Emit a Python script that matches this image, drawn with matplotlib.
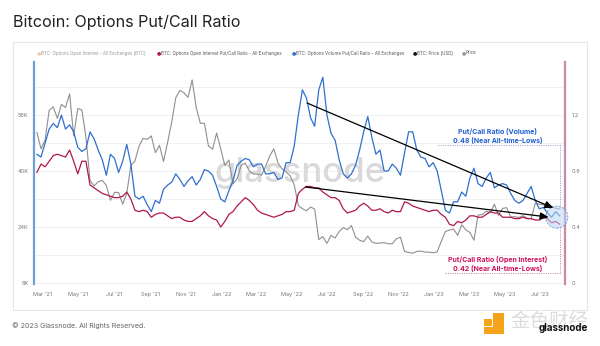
import matplotlib
matplotlib.use("Agg")
import matplotlib.pyplot as plt
import matplotlib.dates as mdates
from matplotlib.patches import Rectangle, Ellipse
import pandas as pd

plt.rcParams['font.family'] = ['Inter', 'DejaVu Sans']

# ---- data (weekly) ----
dates = pd.date_range("2021-02-19", periods=129, freq="7D")

price_k = [
    51.0, 46.3, 48.8, 57.3, 58.3, 55.0, 59.0, 58.1, 62.0, 50.0,
    57.8, 57.4, 49.7, 37.3, 35.7, 36.9, 37.3, 35.8, 31.6, 33.9,
    33.8, 30.5, 33.6, 41.6, 42.8, 47.1, 49.3, 49.0, 50.0, 45.2,
    47.3, 42.7, 48.2, 53.9, 60.9, 63.0, 62.3, 61.0, 66.0, 58.1,
    53.6, 53.6, 47.1, 46.2, 50.8, 46.3, 41.6, 43.1, 36.3, 37.7,
    41.6, 42.2, 40.0, 39.1, 39.1, 38.8, 41.3, 44.3, 46.3, 42.3,
    40.6, 39.7, 38.6, 36.0, 30.1, 29.2, 28.6, 29.7, 29.1, 20.4,
    21.2, 19.3, 21.6, 20.8, 22.7, 23.8, 23.2, 24.4, 21.1, 20.2,
    19.8, 21.4, 19.7, 19.3, 19.4, 19.5, 19.2, 19.2, 20.6, 21.1,
    17.0, 16.7, 16.5, 17.0, 17.1, 16.8, 16.8, 16.6, 16.9, 19.9,
    22.7, 23.1, 23.4, 21.6, 24.6, 23.2, 22.4, 20.2, 27.4, 27.5,
    28.5, 28.0, 30.5, 27.3, 29.3, 29.5, 26.8, 26.9, 26.7, 27.2,
    26.5, 26.3, 30.7, 30.5, 30.3, 30.3, 29.9, 29.3, 29.1,
]

volume_pcr = [
    0.92, 0.90, 1.00, 1.10, 1.14, 1.11, 1.20, 1.10, 1.13, 1.08,
    0.97, 0.94, 0.96, 1.08, 1.03, 0.95, 0.88, 0.77, 0.92, 0.89,
    0.79, 0.87, 0.99, 0.85, 0.62, 0.60, 0.62, 0.56, 0.51, 0.59,
    0.57, 0.67, 0.70, 0.72, 0.78, 0.74, 0.69, 0.73, 0.76, 0.70,
    0.74, 0.81, 0.80, 0.77, 0.69, 0.60, 0.58, 0.66, 0.73, 0.84,
    0.87, 0.89, 0.88, 0.83, 0.85, 0.85, 0.78, 0.78, 0.79, 0.74,
    0.75, 0.86, 0.86, 0.98, 1.20, 1.38, 1.32, 1.18, 1.12, 1.38,
    1.47, 1.20, 1.07, 1.02, 0.88, 0.78, 0.75, 0.78, 0.84, 0.95,
    1.08, 1.19, 1.04, 0.92, 0.95, 0.80, 0.80, 0.85, 0.82, 0.77,
    0.93, 1.08, 1.08, 0.95, 0.90, 0.89, 0.83, 0.86, 0.80, 0.66,
    0.52, 0.50, 0.58, 0.58, 0.65, 0.62, 0.75, 0.82, 0.71, 0.69,
    0.75, 0.79, 0.68, 0.70, 0.71, 0.70, 0.64, 0.59, 0.57, 0.59,
    0.64, 0.69, 0.59, 0.53, 0.54, 0.50, 0.47, 0.51, 0.48,
]

oi_pcr = [
    0.79, 0.85, 0.83, 0.87, 0.91, 0.92, 0.91, 0.90, 0.95, 0.87,
    0.78, 0.87, 0.87, 0.70, 0.68, 0.66, 0.64, 0.63, 0.62, 0.61,
    0.61, 0.62, 0.65, 0.60, 0.52, 0.51, 0.52, 0.51, 0.47, 0.49,
    0.50, 0.50, 0.48, 0.46, 0.47, 0.47, 0.45, 0.44, 0.44, 0.46,
    0.48, 0.51, 0.48, 0.46, 0.45, 0.40, 0.44, 0.49, 0.51, 0.55,
    0.58, 0.61, 0.59, 0.56, 0.52, 0.50, 0.49, 0.48, 0.47, 0.48,
    0.49, 0.51, 0.51, 0.52, 0.64, 0.67, 0.69, 0.69, 0.68, 0.68,
    0.65, 0.63, 0.61, 0.61, 0.59, 0.53, 0.50, 0.51, 0.52, 0.55,
    0.57, 0.55, 0.52, 0.52, 0.53, 0.51, 0.50, 0.52, 0.51, 0.51,
    0.58, 0.57, 0.55, 0.54, 0.53, 0.52, 0.51, 0.52, 0.52, 0.49,
    0.47, 0.42, 0.41, 0.44, 0.43, 0.45, 0.48, 0.48, 0.47, 0.47,
    0.49, 0.51, 0.50, 0.50, 0.47, 0.47, 0.47, 0.46, 0.46, 0.47,
    0.46, 0.46, 0.45, 0.45, 0.47, 0.46, 0.43, 0.44, 0.42,
]

price_ticks = [8, 24, 40, 56]
ratio_ticks = [0, 0.4, 0.8, 1.2]
month_ticks = pd.date_range("2021-03-01", "2023-07-01", freq="2MS")

legend_items = [
    ("BTC: Options Open Interest - All Exchanges (BTC)", "#f08a3c", 0.45),
    ("BTC: Options Open Interest Put/Call Ratio - All Exchanges", "#b0174f", 1.0),
    ("BTC: Options Volume Put/Call Ratio - All Exchanges", "#2f6fcf", 1.0),
    ("BTC: Price (USD)", "#111111", 1.0),
    ("Price", "#9a9a9a", 1.0),
]

BLUE = "#2f6fcf"
RED = "#b0174f"
GRAY = "#8f8f8f"

W, H = 600, 346
fig = plt.figure(figsize=(W / 100, H / 100), dpi=100)
fig.patch.set_facecolor("white")


def fx(px):
    return px / W


def fy(py):
    return 1 - py / H


# card frame
fig.add_artist(Rectangle((fx(13), fy(310)), fx(587) - fx(13), fy(42) - fy(310),
                         transform=fig.transFigure, fill=False,
                         edgecolor="#e6e6e6", lw=0.8))

fig.text(fx(13), fy(22), "Bitcoin: Options Put/Call Ratio", fontsize=11.6,
         color="#222222", ha="left", va="center")

# legend row
lx = [37, 157, 292, 413, 462]
for (label, col, a), x in zip(legend_items, lx):
    fig.text(fx(x), fy(53), "\u25cf", fontsize=3.6, color=col, alpha=a,
             ha="left", va="center", family=["DejaVu Sans"])
    fig.text(fx(x + 4), fy(53), label, fontsize=3.2, color="#555555",
             alpha=0.6 if a < 1 else 1.0, ha="left", va="center")

ax = fig.add_axes([fx(34), fy(284), fx(565) - fx(34), fy(62) - fy(284)])
ax2 = ax.twinx()

ax.set_zorder(1)
ax2.set_zorder(2)
ax.patch.set_visible(False)
ax2.patch.set_visible(False)

ax.plot(dates, [p * 1000 for p in price_k], color=GRAY, lw=0.8, zorder=3)
ax2.plot(dates, oi_pcr, color=RED, lw=0.9, zorder=4)
ax2.plot(dates, volume_pcr, color=BLUE, lw=0.9, zorder=5)

x0 = pd.Timestamp("2021-02-14")
x1 = pd.Timestamp("2023-08-13")
ax.set_xlim(x0, x1)
ax.set_ylim(7700, 71100)
ax2.set_ylim(-0.007, 1.579)

for g in range(8, 72, 8):
    ax.axhline(g * 1000, color="#efefef", lw=0.6, zorder=0)

ax.set_yticks([t * 1000 for t in price_ticks])
ax.set_yticklabels([f"{t}K" for t in price_ticks])
ax2.set_yticks(ratio_ticks)
ax2.set_yticklabels([f"{t:g}" for t in ratio_ticks])
ax.set_xticks(month_ticks)
ax.set_xticklabels([d.strftime("%b '%y") for d in month_ticks])

ax.tick_params(axis="y", length=0, labelsize=4, labelcolor="#777777", pad=4)
ax2.tick_params(axis="y", length=0, labelsize=4, labelcolor="#777777", pad=5)
ax.tick_params(axis="x", length=0, labelsize=4, labelcolor="#777777", pad=6)

for a in (ax, ax2):
    for s in ("top", "bottom"):
        a.spines[s].set_visible(False)
ax.spines["right"].set_visible(False)
ax2.spines["left"].set_visible(False)
ax.spines["left"].set_color("#6f9fd6")
ax.spines["left"].set_linewidth(1.6)
ax2.spines["right"].set_color("#c98aa6")
ax2.spines["right"].set_linewidth(1.6)

# watermark
ax.text(0.5, 0.5, "glassnode", transform=ax.transAxes, fontsize=25,
        color="#d9d9d9", ha="center", va="center", zorder=1, weight="medium")

# trend arrows
arrow_kw = dict(arrowstyle="-|>,head_length=0.5,head_width=0.22",
                color="black", lw=0.9, shrinkA=0, shrinkB=0)
ax2.annotate("", xy=(pd.Timestamp("2023-07-24"), 0.536),
             xytext=(pd.Timestamp("2022-05-28"), 1.286),
             arrowprops=arrow_kw, zorder=8)
ax2.annotate("", xy=(pd.Timestamp("2023-07-16"), 0.471),
             xytext=(pd.Timestamp("2022-05-25"), 0.686),
             arrowprops=arrow_kw, zorder=8)

# callout boxes
dot = (0, (1, 1.4))
bx_l1 = pd.Timestamp("2023-01-07")
bx_l2 = pd.Timestamp("2023-01-19")
bx_r = pd.Timestamp("2023-08-04")
ax2.plot([bx_l1, bx_r], [0.986, 0.986], ls=dot, color="#8a9ec8", lw=0.7, zorder=6)
ax2.plot([bx_r, bx_r], [0.986, 0.543], ls=dot, color="#8a9ec8", lw=0.7, zorder=6)
ax2.plot([bx_l2, bx_r], [0.071, 0.071], ls=dot, color="#c77b9b", lw=0.7, zorder=6)
ax2.plot([bx_r, bx_r], [0.071, 0.393], ls=dot, color="#c77b9b", lw=0.7, zorder=6)

ctr = mdates.date2num(pd.Timestamp("2023-07-30"))
ax2.add_patch(Ellipse((ctr, 0.471), 37.7, 0.157, facecolor="#bcd6f3",
                      alpha=0.55, edgecolor="none", zorder=6, clip_on=False))
ax2.add_patch(Ellipse((ctr, 0.471), 37.7, 0.157, facecolor="none",
                      edgecolor="#6c9ee0", ls=(0, (2, 1.5)), lw=0.7,
                      zorder=7, clip_on=False))

tx = pd.Timestamp("2023-04-20")
ax2.text(tx, 1.086, "Put/Call Ratio (Volume)", color="#1f5fd0", fontsize=5,
         weight="bold", ha="center", va="center", zorder=9)
ax2.text(tx, 1.021, "0.48 (Near All-time-Lows)", color="#1f5fd0", fontsize=5,
         weight="bold", ha="center", va="center", zorder=9)
ax2.text(tx, 0.171, "Put/Call Ratio (Open Interest)", color="#d0105a", fontsize=5,
         weight="bold", ha="center", va="center", zorder=9)
ax2.text(tx, 0.107, "0.42 (Near All-time-Lows)", color="#d0105a", fontsize=5,
         weight="bold", ha="center", va="center", zorder=9)

# footer
fig.text(fx(12), fy(326), "\u00a9 2023 Glassnode. All Rights Reserved.",
         fontsize=5.1, color="#666666", ha="left", va="center")

# bottom-right marks
for (px, py, pw, ph) in [(484, 319, 8, 7), (493, 313, 11, 21), (484, 327, 20, 7)]:
    fig.add_artist(Rectangle((fx(px), fy(py + ph)), pw / W, ph / H,
                             transform=fig.transFigure, facecolor="#f5a31a",
                             edgecolor="none"))
fig.text(fx(549), fy(321), "金色财经", fontsize=14, color="#dcdcdc",
         family=["Noto Sans CJK SC"], ha="center", va="center")
fig.text(fx(563), fy(328), "glassnode", fontsize=7, color="#111111",
         weight="bold", ha="center", va="center")

fig.savefig("out.png", dpi=100, facecolor="white")
